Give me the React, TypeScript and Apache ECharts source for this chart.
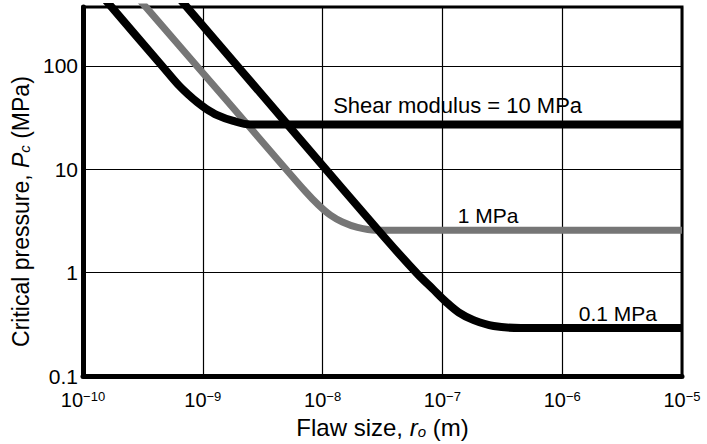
import React, { useEffect, useRef } from "react";
import * as echarts from "echarts";

const FONT = "'Liberation Sans', Arial, Helvetica, sans-serif";

const xTicks = [1e-10, 1e-9, 1e-8, 1e-7, 1e-6, 1e-5];
const yTicks = [0.1, 1, 10, 100];
const yMax = 372;
const curveNames = ["Shear modulus = 10 MPa", "1 MPa", "0.1 MPa"];

// G = 10 MPa
const flawSize10 = [1.317e-10, 1.748e-10, 4.575e-10, 6.225e-10, 7.548e-10, 8.978e-10, 1.047e-9, 1.319e-9, 1.796e-9, 2.49e-9, 1e-5];
const pressure10 = [538, 367, 100, 66.0, 53.1, 44.6, 39.1, 33.5, 29.4, 27.2, 27.2];

// G = 1 MPa
const flawSize1 = [2.539e-10, 3.494e-10, 1.728e-9, 7.18e-9, 9.22e-9, 1.162e-8, 1.464e-8, 1.954e-8, 2.763e-8, 1e-5];
const pressure1 = [538, 350.8, 41.26, 6.12, 4.536, 3.606, 3.095, 2.744, 2.57, 2.57];

// G = 0.1 MPa
const flawSize01 = [5.59e-10, 7.548e-10, 6.524e-9, 3.225e-8, 6.2e-8, 8.28e-8, 1.063e-7, 1.366e-7, 1.823e-7, 2.679e-7, 4.507e-7, 1e-5];
const pressure01 = [538, 359.4, 19.41, 2.254, 0.9714, 0.7, 0.527, 0.414, 0.348, 0.305, 0.292, 0.292];

// label anchor points (data coordinates)
const labelAt10 = [1.34e-7, 41.7];
const labelAt1 = [1.34e-7, 3.57];
const labelAt01 = [1.377e-6, 0.401];

const zip = (xs: number[], ys: number[]) => xs.map((x, i) => [x, ys[i]]);

function buildOption() {
  const textBase = { fontFamily: FONT, color: "#000" };
  const mkLabel = (coord: number[], text: string, align: string, size: number) => ({
    symbol: "circle",
    symbolSize: 0,
    silent: true,
    data: [{ coord, value: text }],
    label: {
      show: true,
      position: [0, 0],
      align,
      verticalAlign: "middle",
      formatter: text,
      fontSize: size,
      ...textBase,
    },
  });
  const lineCommon = {
    type: "line",
    symbol: "none",
    smooth: 0.35,
  };
  return {
    animation: false,
    backgroundColor: "#fff",
    grid: {
      left: 83,
      right: 25,
      top: 7,
      bottom: 61,
      show: true,
      borderColor: "#000",
      borderWidth: 3,
    },
    xAxis: {
      type: "log",
      logBase: 10,
      min: xTicks[0],
      max: xTicks[xTicks.length - 1],
      name: "{n|Flaw size, }{i|r}{sub|o}{n| (m)}",
      nameLocation: "middle",
      nameGap: 32,
      nameTextStyle: {
        rich: {
          n: { fontSize: 24, lineHeight: 24, verticalAlign: "top", ...textBase },
          i: { fontSize: 24, lineHeight: 24, verticalAlign: "top", fontStyle: "italic", ...textBase },
          sub: { fontSize: 15, lineHeight: 15, verticalAlign: "bottom", fontStyle: "italic", ...textBase },
        },
      },
      axisLine: { show: true, onZero: false, lineStyle: { color: "#000", width: 5 } },
      axisTick: { show: false },
      splitLine: { show: true, lineStyle: { color: "#000", width: 1.2 } },
      axisLabel: {
        margin: 14,
        formatter: (v: number) => {
          const e = Math.round(Math.log10(v));
          return `{b|10}{s|\u2212${Math.abs(e)}}`;
        },
        rich: {
          b: { fontSize: 20, lineHeight: 20, verticalAlign: "bottom", ...textBase },
          s: { fontSize: 13, lineHeight: 13, verticalAlign: "top", ...textBase },
        },
      },
    },
    yAxis: {
      type: "log",
      logBase: 10,
      min: yTicks[0],
      max: yMax,
      name: "{n|Critical pressure, }{i|P}{sub|c}{n| (MPa)}",
      nameLocation: "middle",
      nameGap: 49,
      nameRotate: 90,
      nameTextStyle: {
        padding: [0, 40, 0, 0],
        rich: {
          n: { fontSize: 23, lineHeight: 23, verticalAlign: "top", ...textBase },
          i: { fontSize: 23, lineHeight: 23, verticalAlign: "top", fontStyle: "italic", ...textBase },
          sub: { fontSize: 15, lineHeight: 15, verticalAlign: "bottom", fontStyle: "italic", ...textBase },
        },
      },
      axisLine: { show: true, onZero: false, lineStyle: { color: "#000", width: 5 } },
      axisTick: { show: false },
      splitLine: { show: true, lineStyle: { color: "#000", width: 1.2 } },
      axisLabel: {
        margin: 5,
        fontSize: 21,
        showMaxLabel: false,
        ...textBase,
        formatter: (v: number) => String(Number(v.toPrecision(3))),
      },
    },
    series: [
      {
        ...lineCommon,
        name: curveNames[1],
        data: zip(flawSize1, pressure1),
        z: 2,
        lineStyle: { color: "#767676", width: 7, join: "round" },
        markPoint: mkLabel(labelAt1, curveNames[1], "left", 21),
      },
      {
        ...lineCommon,
        name: curveNames[0],
        data: zip(flawSize10, pressure10),
        z: 3,
        lineStyle: { color: "#000", width: 8, join: "round" },
        markPoint: mkLabel(labelAt10, curveNames[0], "center", 22),
      },
      {
        ...lineCommon,
        name: curveNames[2],
        data: zip(flawSize01, pressure01),
        z: 3,
        lineStyle: { color: "#000", width: 8, join: "round" },
        markPoint: mkLabel(labelAt01, curveNames[2], "left", 21),
      },
    ],
  };
}

export default function App() {
  const ref = useRef<HTMLDivElement>(null);
  useEffect(() => {
    document.body.style.margin = "0";
    const chart = echarts.init(ref.current as HTMLDivElement, undefined, { renderer: "svg" });
    chart.setOption(buildOption() as any);
    return () => chart.dispose();
  }, []);
  return (
    <div
      ref={ref}
      style={{ position: "absolute", left: 0, top: 0, width: 707, height: 444, background: "#fff" }}
    />
  );
}
